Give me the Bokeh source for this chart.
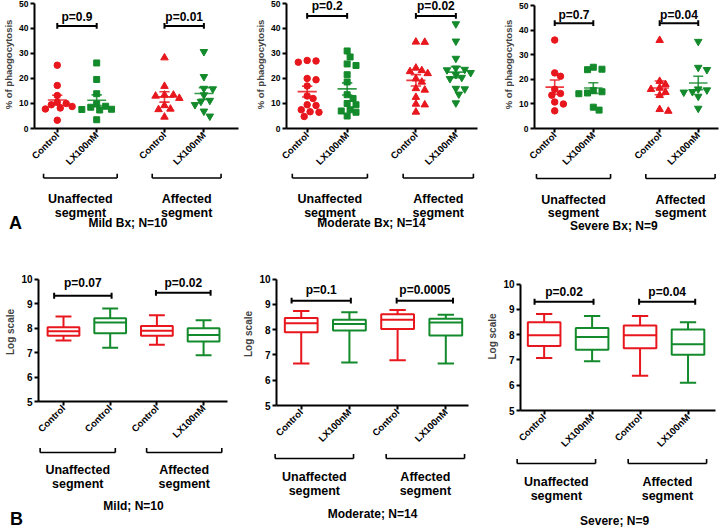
import math
from bokeh.plotting import figure
from bokeh.models import Range1d, FixedTicker
from bokeh.layouts import row, column
from bokeh.core.properties import value
from bokeh.embed import file_html
from bokeh.resources import INLINE

RED = "#e8161d"
GREEN = "#138a2b"
FONT = "Liberation Sans"

# ---------------- data ----------------
tick_labels_A = ["Control", "LX100nM", "Control", "LX100nM"]
tick_labels_B_mild = ["Control", "Control", "Control", "LX100nM"]
tick_labels_B = ["Control", "LX100nM", "Control", "LX100nM"]
group_labels = [("Unaffected", "segment"), ("Affected", "segment")]

titles_A = ["Mild Bx; N=10", "Moderate Bx; N=14", "Severe Bx; N=9"]
titles_B = ["Mild; N=10", "Moderate; N=14", "Severe; N=9"]

# Panel A: % of phagocytosis, one value per subject
mild_unaff_control = [25.3, 17.2, 13.2, 10.5, 10.0, 9.5, 8.8, 8.2, 7.8, 3.3]
mild_unaff_lx = [26.2, 19.6, 13.9, 9.8, 8.9, 8.5, 7.7, 7.4, 7.6, 3.5]
mild_aff_control = [28.3, 16.9, 13.4, 13.4, 13.0, 12.1, 9.2, 7.6, 7.8, 4.6]
mild_aff_lx = [30.7, 20.7, 16.0, 15.8, 13.4, 11.2, 10.8, 9.5, 6.9, 4.9]

mod_unaff_control = [27.0, 26.5, 27.2, 20.0, 19.5, 17.0, 13.0, 12.0, 9.5, 9.2, 7.5, 6.5, 6.7, 4.8]
mod_unaff_lx = [31.0, 28.6, 25.8, 25.2, 21.5, 18.6, 13.5, 10.0, 9.5, 7.5, 7.0, 6.5, 5.0, 12.0]
mod_aff_control = [34.6, 34.5, 24.2, 23.2, 22.8, 22.0, 19.9, 18.6, 16.0, 15.4, 12.5, 9.8, 9.5, 6.6]
mod_aff_lx = [41.8, 34.9, 28.0, 24.1, 23.6, 23.4, 22.3, 21.5, 20.4, 19.9, 16.0, 15.8, 13.7, 10.2]

sev_unaff_control = [36.1, 22.7, 21.3, 16.0, 14.3, 13.6, 10.8, 10.0, 7.2]
sev_unaff_lx = [25.0, 24.0, 24.2, 15.5, 15.0, 14.2, 14.5, 8.7, 7.5]
sev_aff_control = [36.0, 19.3, 18.0, 16.5, 16.0, 14.8, 13.5, 7.8, 7.1]
sev_aff_lx = [35.5, 24.9, 24.0, 16.1, 15.7, 15.0, 14.8, 13.1, 8.2]

p_values_A = [["p=0.9", "p=0.01"], ["p=0.2", "p=0.02"], ["p=0.7", "p=0.04"]]

# Panel B: box plots (log scale): [min, q1, median, q3, max]
mild_boxes = [[7.49, 7.69, 7.87, 8.03, 8.47],
              [7.20, 7.79, 8.23, 8.40, 8.80],
              [7.32, 7.69, 7.89, 8.09, 8.52],
              [6.89, 7.45, 7.72, 7.99, 8.32]]
mod_boxes = [[6.66, 7.90, 8.26, 8.46, 8.74],
             [6.70, 7.97, 8.23, 8.39, 8.69],
             [6.79, 8.03, 8.39, 8.61, 8.78],
             [6.66, 7.77, 8.29, 8.43, 8.59]]
sev_boxes = [[7.08, 7.55, 7.97, 8.49, 8.81],
             [6.95, 7.40, 7.91, 8.26, 8.74],
             [6.37, 7.46, 7.97, 8.36, 8.74],
             [6.10, 7.20, 7.62, 8.20, 8.49]]

p_values_B = [["p=0.07", "p=0.02"], ["p=0.1", "p=0.0005"], ["p=0.02", "p=0.04"]]

# ---------------- layout constants ----------------
POS_A = [1, 2, 3.72, 4.72]
POS_B = [1, 2, 3, 4]
COLORS = [RED, GREEN, RED, GREEN]
MARKERS = ["circle", "square", "triangle", "inverted_triangle"]
MSIZE = [6.5, 6, 7.5, 7.5]


def no_align(p):
    try:
        p.frame_align = False
    except Exception:
        pass


def swarm_offsets(vals, ppu_x, ppu_y, d=6.5, step=3.0):
    order = sorted(range(len(vals)), key=lambda i: -vals[i])
    placed = []
    offs = [0.0] * len(vals)
    cands = [0.0]
    for k in range(1, 30):
        cands += [k * step, -k * step]
    for i in order:
        y = vals[i] * ppu_y
        chosen = 0.0
        for c in cands:
            if all((c - px) ** 2 + (y - py) ** 2 >= d * d for px, py in placed):
                chosen = c
                break
        placed.append((chosen, y))
        offs[i] = chosen / ppu_x
    return offs


def base_fig(W, H, bl, br, bt, bb, xr, yr):
    p = figure(width=W, height=H, x_range=Range1d(*xr), y_range=Range1d(*yr),
               title=None, output_backend="svg", toolbar_location=None,
               min_border_left=bl, min_border_right=br,
               min_border_top=bt, min_border_bottom=bb)
    no_align(p)
    p.outline_line_color = None
    p.grid.visible = False
    p.background_fill_color = "white"
    p.border_fill_color = "white"
    return p


def style_axes(p, xpos, xlabels, yticks, ybounds, ylabel, ytick_size, xtick_size, ylab_size):
    for ax in (p.xaxis[0], p.yaxis[0]):
        ax.axis_line_width = 2
        ax.axis_line_color = "black"
        ax.major_tick_line_width = 2
        ax.major_tick_line_color = "black"
        ax.major_tick_out = 4
        ax.major_tick_in = 0
        ax.minor_tick_line_color = None
        ax.major_label_text_font = FONT
        ax.major_label_text_font_style = "bold"
        ax.major_label_text_color = "black"
        ax.major_label_standoff = 2
    xa = p.xaxis[0]
    xa.ticker = FixedTicker(ticks=xpos)
    xa.major_label_overrides = {xp: lab for xp, lab in zip(xpos, xlabels)}
    xa.major_label_orientation = math.pi / 4
    xa.major_label_text_font_size = xtick_size
    xa.major_label_standoff = 1
    ya = p.yaxis[0]
    ya.ticker = FixedTicker(ticks=yticks)
    ya.bounds = ybounds
    ya.major_label_text_font_size = ytick_size
    ya.axis_label = ylabel
    ya.axis_label_text_font = FONT
    ya.axis_label_text_font_style = "bold"
    ya.axis_label_text_font_size = ylab_size
    ya.axis_label_standoff = 2


def txt(p, x, y, s, size, align="center"):
    p.text(x=[x], y=[y], text=[s], text_font=value(FONT), text_font_style="bold",
           text_font_size=size, text_align=align, text_baseline="middle", text_color="black")


def p_bracket(p, x0, x1, y, ty, label, half):
    p.segment(x0=[x0], x1=[x1], y0=[y], y1=[y], line_color="black", line_width=2)
    p.segment(x0=[x0, x1], x1=[x0, x1], y0=[y - half, y - half], y1=[y + half, y + half],
              line_color="black", line_width=2)
    txt(p, (x0 + x1) / 2, ty, label, "12px")


def bottom_fig(W, h, bl, br, xr, pos, brk, texts_y, title, title_x, title_y, letter=None):
    fw = W - bl - br
    ppu = fw / (xr[1] - xr[0])
    xs = xr[0] - bl / ppu
    xe = xr[1] + br / ppu
    b = figure(width=W, height=h, x_range=Range1d(xs, xe), y_range=Range1d(h, 0),
               title=None, x_axis_type=None, y_axis_type=None, output_backend="svg",
               toolbar_location=None, min_border=0)
    no_align(b)
    b.outline_line_color = None
    b.grid.visible = False
    by, t1, t2 = texts_y
    for gi, (a, c) in enumerate([(0, 1), (2, 3)]):
        x0 = pos[a] + brk[gi][0]
        x1 = pos[c] + brk[gi][1]
        b.segment(x0=[x0], x1=[x1], y0=[by], y1=[by], line_color="black", line_width=1.6)
        b.segment(x0=[x0, x1], x1=[x0, x1], y0=[by, by], y1=[by - 4.5, by - 4.5],
                  line_color="black", line_width=1.6)
        xc = (x0 + x1) / 2
        txt(b, xc, t1, group_labels[gi][0], "12.5px")
        txt(b, xc, t2, group_labels[gi][1], "12.5px")
    txt(b, title_x, title_y, title, "12px")
    if letter is not None:
        lx = xs + letter[1] / ppu
        txt(b, lx, letter[2], letter[0], "18px")
    return b


# ---------------- Panel A ----------------
HA, HA_B = 173, 63
A_cfg = [
    dict(W=252, bl=32, br=14, bb=42, xr=(0.422, 5.598), yr=(0, 51.17),
         series=[mild_unaff_control, mild_unaff_lx, mild_aff_control, mild_aff_lx],
         p_y=41, p_ty=44.6, title_x=2.82, texts_y=(4.5, 25, 39), title_y=49,
         letter=("A", 15, 49)),
    dict(W=248, bl=31, br=23, bb=42, xr=(0.483, 5.261), yr=(0, 51.17),
         series=[mod_unaff_control, mod_unaff_lx, mod_aff_control, mod_aff_lx],
         p_y=45, p_ty=48.8, title_x=2.65, texts_y=(4.5, 25, 39), title_y=49, letter=None),
    dict(W=220, bl=27, br=2, bb=41, xr=(0.476, 5.245), yr=(0, 52.24),
         series=[sev_unaff_control, sev_unaff_lx, sev_aff_control, sev_aff_lx],
         p_y=43, p_ty=46.3, title_x=2.63, texts_y=(5, 26, 39), title_y=52, letter=None),
]

top_cols = []
for k, c in enumerate(A_cfg):
    p = base_fig(c["W"], HA, c["bl"], c["br"], 0, c["bb"], c["xr"], c["yr"])
    fw = c["W"] - c["bl"] - c["br"]
    fh = HA - c["bb"]
    ppu_x = fw / (c["xr"][1] - c["xr"][0])
    ppu_y = fh / (c["yr"][1] - c["yr"][0])
    style_axes(p, POS_A, tick_labels_A, [0, 10, 20, 30, 40, 50], (0, 50),
               "% of phaogocytosis", "8.5px", "9.5px", "9.5px")
    for pos, vals, m, col, ms in zip(POS_A, c["series"], MARKERS, COLORS, MSIZE):
        offs = swarm_offsets(vals, ppu_x, ppu_y)
        p.scatter(x=[pos + o for o in offs], y=vals, marker=m, size=ms,
                  fill_color=col, line_color=col)
        n = len(vals)
        mean = sum(vals) / n
        sd = math.sqrt(sum((v - mean) ** 2 for v in vals) / (n - 1))
        sem = sd / math.sqrt(n)
        p.segment(x0=[pos - 0.24], x1=[pos + 0.24], y0=[mean], y1=[mean],
                  line_color=col, line_width=1.6, line_alpha=0.85)
        p.segment(x0=[pos], x1=[pos], y0=[mean - sem], y1=[mean + sem],
                  line_color=col, line_width=1.6, line_alpha=0.85)
        p.segment(x0=[pos - 0.13, pos - 0.13], x1=[pos + 0.13, pos + 0.13],
                  y0=[mean - sem, mean + sem], y1=[mean - sem, mean + sem],
                  line_color=col, line_width=1.6, line_alpha=0.85)
    half = 3 / ppu_y
    p_bracket(p, POS_A[0], POS_A[1], c["p_y"], c["p_ty"], p_values_A[k][0], half)
    p_bracket(p, POS_A[2], POS_A[3], c["p_y"], c["p_ty"], p_values_A[k][1], half)
    b = bottom_fig(c["W"], HA_B, c["bl"], c["br"], c["xr"], POS_A,
                   [(-0.3, 0.55), (-0.29, 0.44)], c["texts_y"], titles_A[k],
                   c["title_x"], c["title_y"], c["letter"])
    top_cols.append(column(p, b))

# ---------------- Panel B ----------------
ROW_B = 292
B_cfg = [
    dict(W=240, bl=38, br=13, H=210, bt=26, xr=(0.465, 4.512), yr=(5, 10.68), boxes=mild_boxes,
         labels=tick_labels_B_mild, p_y=[9.32, 9.44], p_ty=9.84,
         texts_y=(6, 23, 37), title_y=59, letter=("B", 16, 72)),
    dict(W=244, bl=34, br=16, H=214, bt=26, xr=(0.487, 4.471), yr=(5, 10.66), boxes=mod_boxes,
         labels=tick_labels_B, p_y=[9.15, 9.15], p_ty=9.57,
         texts_y=(8, 26, 40), title_y=63, letter=None),
    dict(W=236, bl=33, br=5, H=219, bt=26, xr=(0.507, 4.573), yr=(5, 10.85), boxes=sev_boxes,
         labels=tick_labels_B, p_y=[9.3, 9.3], p_ty=9.69,
         texts_y=(8, 26, 40), title_y=65, letter=None),
]

bot_cols = []
for k, c in enumerate(B_cfg):
    H = c["H"]
    p = base_fig(c["W"], H, c["bl"], c["br"], c["bt"], 42, c["xr"], c["yr"])
    fh = H - c["bt"] - 42
    ppu_y = fh / (c["yr"][1] - c["yr"][0])
    style_axes(p, POS_B, c["labels"], [5, 6, 7, 8, 9, 10], (5, 10),
               "Log scale", "10px", "9.5px", "10px")
    for pos, bx, col in zip(POS_B, c["boxes"], COLORS):
        mn, q1, md, q3, mx = bx
        p.quad(left=[pos - 0.34], right=[pos + 0.34], bottom=[q1], top=[q3],
               fill_color=None, line_color=col, line_width=2)
        p.segment(x0=[pos - 0.34], x1=[pos + 0.34], y0=[md], y1=[md], line_color=col, line_width=2)
        p.segment(x0=[pos, pos], x1=[pos, pos], y0=[q3, q1], y1=[mx, mn], line_color=col, line_width=2)
        p.segment(x0=[pos - 0.17, pos - 0.17], x1=[pos + 0.17, pos + 0.17], y0=[mx, mn], y1=[mx, mn],
                  line_color=col, line_width=2)
    half = 3 / ppu_y
    p_bracket(p, POS_B[0] - 0.2, POS_B[1] + 0.03, c["p_y"][0], c["p_ty"], p_values_B[k][0], half)
    p_bracket(p, POS_B[2] - 0.02, POS_B[3] + 0.15, c["p_y"][1], c["p_ty"], p_values_B[k][1], half)
    b = bottom_fig(c["W"], ROW_B - H, c["bl"], c["br"], c["xr"], POS_B,
                   [(-0.5, 0.11), (-0.22, 0.39)], c["texts_y"], titles_B[k],
                   2.5, c["title_y"], c["letter"])
    bot_cols.append(column(p, b))

layout = column(row(*top_cols), row(*bot_cols))

open("out.html", "w").write(file_html(layout, INLINE))
